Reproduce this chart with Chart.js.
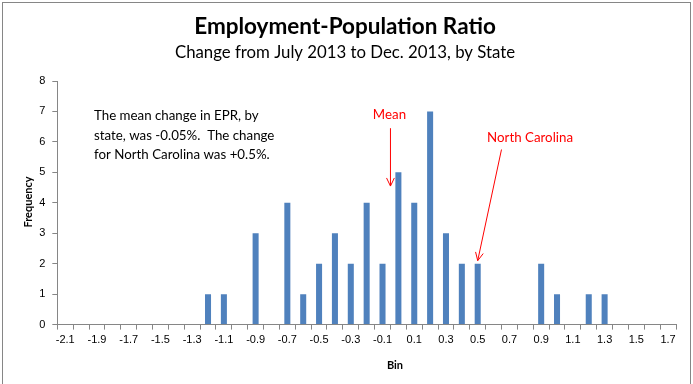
<!DOCTYPE html>
<html>
<head>
  <title>Employment-Population Ratio</title>
  <script src="https://cdn.jsdelivr.net/npm/chart.js"></script>
  <style>
    html, body { margin: 0; padding: 0; background: #fff; }
  </style>
</head>
<body>
  <canvas id="myChart" width="693" height="384"></canvas>

  <script>
    // bins (change in EPR, percentage points)
    const bins = ['-2.1', '-2.0', '-1.9', '-1.8', '-1.7', '-1.6', '-1.5', '-1.4', '-1.3', '-1.2',
                  '-1.1', '-1.0', '-0.9', '-0.8', '-0.7', '-0.6', '-0.5', '-0.4', '-0.3', '-0.2',
                  '-0.1', '0.0', '0.1', '0.2', '0.3', '0.4', '0.5', '0.6', '0.7', '0.8',
                  '0.9', '1.0', '1.1', '1.2', '1.3', '1.4', '1.5', '1.6', '1.7'];
    const frequency = [0, 0, 0, 0, 0, 0, 0, 0, 0, 1,
                       1, 0, 3, 0, 4, 1, 2, 3, 2, 4,
                       2, 5, 4, 7, 3, 2, 2, 0, 0, 0,
                       2, 1, 0, 1, 1, 0, 0, 0, 0];
    const yTicks = [0, 1, 2, 3, 4, 5, 6, 7, 8];

    const titleText = 'Employment-Population Ratio';
    const subtitleText = 'Change from July 2013 to Dec. 2013, by State';
    const noteLines = ['The mean change in EPR, by', 'state, was -0.05%.  The change', 'for North Carolina was +0.5%.'];
    const meanChange = -0.05;
    const ncChange = 0.5;

    const textFont = 'Lato, "Open Sans", sans-serif';
    const tickFont = '"Liberation Sans", Arial, sans-serif';

    // category position (fractional) for a numeric bin value
    function binIndex(v) {
      return (v - parseFloat(bins[0])) / 0.1;
    }

    function arrow(ctx, x1, y1, x2, y2) {
      const a = Math.atan2(y2 - y1, x2 - x1);
      const len = 9;
      ctx.beginPath();
      ctx.moveTo(x1, y1);
      ctx.lineTo(x2, y2);
      ctx.moveTo(x2 - len * Math.cos(a - 0.45), y2 - len * Math.sin(a - 0.45));
      ctx.lineTo(x2, y2);
      ctx.lineTo(x2 - len * Math.cos(a + 0.45), y2 - len * Math.sin(a + 0.45));
      ctx.stroke();
    }

    const decorations = {
      id: 'decorations',
      afterDraw(chart) {
        const ctx = chart.ctx;
        const xs = chart.scales.x;
        const ys = chart.scales.y;
        ctx.save();

        // chart border
        ctx.strokeStyle = '#868686';
        ctx.lineWidth = 1;
        ctx.strokeRect(2.5, 2.5, 688, 390);

        // titles
        ctx.fillStyle = '#000';
        ctx.textAlign = 'center';
        ctx.textBaseline = 'middle';
        ctx.font = 'bold 22.5px ' + textFont;
        ctx.fillText(titleText, 345, 27);
        ctx.font = '16.8px ' + textFont;
        ctx.fillText(subtitleText, 345, 53);

        // axis titles
        ctx.font = 'bold 11px ' + textFont;
        ctx.fillText('Bin', 395, 365);
        ctx.save();
        ctx.translate(28, 202);
        ctx.rotate(-Math.PI / 2);
        ctx.fillText('Frequency', 0, 0);
        ctx.restore();

        // note
        ctx.textAlign = 'left';
        ctx.font = '13.3px ' + textFont;
        noteLines.forEach((line, i) => ctx.fillText(line, 94, 116 + i * 19.5));

        // mean annotation
        ctx.fillStyle = '#ff0000';
        ctx.strokeStyle = '#ff0000';
        ctx.lineWidth = 1;
        ctx.textAlign = 'center';
        const mx = xs.getPixelForValue(binIndex(meanChange));
        ctx.fillText('Mean', mx - 1, 115);
        arrow(ctx, mx, ys.getPixelForValue(6.45), mx, ys.getPixelForValue(4.55));

        // North Carolina annotation
        const nx = xs.getPixelForValue(binIndex(ncChange));
        ctx.fillText('North Carolina', xs.getPixelForValue(binIndex(0.83)), 138);
        arrow(ctx, xs.getPixelForValue(binIndex(0.65)), ys.getPixelForValue(5.75),
              nx, ys.getPixelForValue(2.1));

        ctx.restore();
      }
    };

    const ctx = document.getElementById('myChart').getContext('2d');
    new Chart(ctx, {
      type: 'bar',
      data: {
        labels: bins,
        datasets: [{
          label: 'Frequency',
          data: frequency,
          backgroundColor: '#4f81bd',
          borderWidth: 0,
          barPercentage: 1,
          categoryPercentage: 0.38
        }]
      },
      options: {
        responsive: false,
        animation: false,
        layout: { padding: { left: 0, right: 17, top: 81, bottom: 0 } },
        plugins: {
          legend: { display: false },
          title: { display: false },
          tooltip: { enabled: false }
        },
        scales: {
          x: {
            grid: {
              display: true,
              drawOnChartArea: false,
              drawTicks: true,
              tickLength: 5,
              color: '#868686'
            },
            border: { display: true, color: '#868686' },
            ticks: {
              autoSkip: false,
              maxRotation: 0,
              minRotation: 0,
              color: '#000',
              font: { family: tickFont, size: 11 },
              padding: 4,
              callback: (value, index) => index % 2 === 0 ? bins[index] : ''
            },
            title: { display: true, text: ' ', font: { size: 11 }, padding: { top: 6, bottom: 14 } }
          },
          y: {
            min: 0,
            max: 8,
            afterBuildTicks: axis => { axis.ticks = yTicks.map(v => ({ value: v })); },
            grid: {
              display: true,
              drawOnChartArea: false,
              drawTicks: true,
              tickLength: 5,
              color: '#868686'
            },
            border: { display: true, color: '#868686' },
            ticks: {
              color: '#000',
              font: { family: tickFont, size: 11 },
              padding: 7
            },
            title: { display: true, text: ' ', font: { size: 11 }, padding: { top: 0, bottom: 19 } }
          }
        }
      },
      plugins: [decorations]
    });
  </script>
</body>
</html>
